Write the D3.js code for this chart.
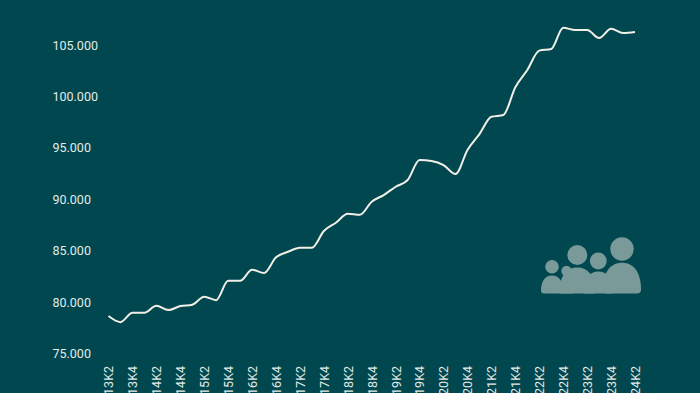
<!DOCTYPE html>
<html lang="en">
  <head>
    <meta charset="UTF-8" />
    <title>Chart</title>
    <style>
      html, body { margin: 0; padding: 0; background: #00474f; overflow: hidden; }
      svg { display: block; }
    </style>
  </head>
  <body>
    <svg id="chart-d3"></svg>
    <script src="https://cdnjs.cloudflare.com/ajax/libs/d3/7.0.1/d3.min.js"></script>
    <script>
      const quarters = [
        "2013K2", "2013K3", "2013K4", "2014K1", "2014K2", "2014K3", "2014K4", "2015K1", "2015K2",
        "2015K3", "2015K4", "2016K1", "2016K2", "2016K3", "2016K4", "2017K1", "2017K2", "2017K3",
        "2017K4", "2018K1", "2018K2", "2018K3", "2018K4", "2019K1", "2019K2", "2019K3", "2019K4",
        "2020K1", "2020K2", "2020K3", "2020K4", "2021K1", "2021K2", "2021K3", "2021K4", "2022K1",
        "2022K2", "2022K3", "2022K4", "2023K1", "2023K2", "2023K3", "2023K4", "2024K1", "2024K2",
      ];
      const values = [
        78640, 78050, 78960, 78960, 79640, 79220, 79610, 79740, 80520,
        80190, 82070, 82070, 83140, 82820, 84350, 84890, 85280, 85280,
        86910, 87710, 88590, 88490, 89760, 90410, 91215, 91870, 93810,
        93720, 93330, 92450, 94790, 96340, 98020, 98190, 100890, 102570,
        104450, 104610, 106680, 106460, 106460, 105680, 106590, 106170, 106270,
      ];
      const yTicks = [75000, 80000, 85000, 90000, 95000, 100000, 105000];

      const width = 700,
        height = 393,
        background = "#00474f",
        textColor = "#e3ebe6",
        lineColor = "#f2efe6",
        iconColor = "#7a9a9a",
        fontFamily = "Roboto, sans-serif";

      const chart = d3.select("#chart-d3").attr("width", width).attr("height", height);
      chart.append("rect").attr("width", width).attr("height", height).attr("fill", background);

      const x = d3.scalePoint().domain(quarters).range([108.5, 635]);
      const y = d3.scaleLinear().domain([75000, 105000]).range([353.5, 45]);

      // y axis, only the labels, left aligned
      const yAxis = d3
        .axisLeft(y)
        .tickValues(yTicks)
        .tickSize(0)
        .tickPadding(0)
        .tickFormat((d) => d3.format(",")(d).replace(",", "."));
      const yG = chart.append("g").attr("transform", "translate(52.5, 0)").call(yAxis);
      yG.select(".domain").remove();
      yG.selectAll("text")
        .attr("x", 0)
        .attr("text-anchor", "start")
        .attr("fill", textColor)
        .attr("font-family", fontFamily)
        .attr("font-size", 12.5);

      // x axis, every second quarter, cut off by the bottom of the window
      const xAxis = d3
        .axisBottom(x)
        .tickValues(quarters.filter((d, i) => i % 2 === 0))
        .tickSize(0)
        .tickPadding(0);
      const xG = chart.append("g").attr("transform", "translate(0, 366)").call(xAxis);
      xG.select(".domain").remove();
      xG.selectAll("text")
        .attr("fill", textColor)
        .attr("font-family", fontFamily)
        .attr("font-size", 12.5)
        .attr("text-anchor", "end")
        .attr("dy", "0.35em")
        .attr("y", 0)
        .attr("transform", "rotate(-90)");

      const line = d3
        .line()
        .x((d, i) => x(quarters[i]))
        .y((d) => y(d))
        .curve(d3.curveMonotoneX);

      chart
        .append("path")
        .datum(values)
        .attr("fill", "none")
        .attr("stroke", lineColor)
        .attr("stroke-width", 2)
        .attr("stroke-linejoin", "round")
        .attr("d", line);

      // people icon
      const icon = chart.append("g").attr("fill", iconColor);
      const bottom = 293.5;
      function person(cx, headY, headR, bodyTop, bodyW, corner) {
        icon.append("circle").attr("cx", cx).attr("cy", headY).attr("r", headR);
        const l = cx - bodyW,
          r = cx + bodyW,
          h = bottom - corner - bodyTop;
        icon
          .append("path")
          .attr(
            "d",
            `M${l},${bottom - corner}` +
              `C${l},${bodyTop + h * 0.3} ${cx - bodyW * 0.55},${bodyTop} ${cx},${bodyTop}` +
              `C${cx + bodyW * 0.55},${bodyTop} ${r},${bodyTop + h * 0.3} ${r},${bottom - corner}` +
              `Q${r},${bottom} ${r - corner},${bottom}` +
              `L${l + corner},${bottom}` +
              `Q${l},${bottom} ${l},${bottom - corner}Z`
          );
      }
      person(552, 266.7, 6.8, 275.5, 11, 3);
      person(566.5, 271, 5.2, 280, 7, 1);
      person(577.3, 255, 10, 267.5, 18, 1);
      person(598.3, 261, 8.4, 271.5, 15, 1);
      person(622, 249, 11.7, 262.7, 19, 4);
    </script>
  </body>
</html>
